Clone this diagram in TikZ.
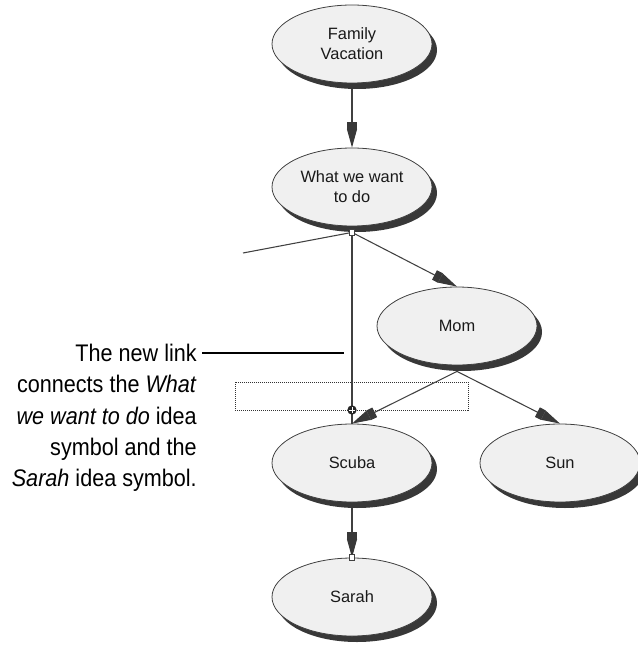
\documentclass[tikz,border=0pt]{standalone}
\usepackage{fontspec}
\setmainfont{Liberation Sans}
\newfontfamily\notefont[FakeStretch=0.9]{Liberation Sans}
\usetikzlibrary{arrows.meta,shapes.geometric,shadows}
\definecolor{fillc}{HTML}{F0F0F0}
\definecolor{edgec}{HTML}{404040}
\definecolor{shadc}{HTML}{383838}
\definecolor{linec}{HTML}{404040}
\begin{document}
\begin{tikzpicture}[x=0.75pt,y=-0.75pt,
  idea/.style={ellipse, draw=edgec, line width=0.6pt, fill=fillc,
    minimum width=120pt, minimum height=58.5pt, inner sep=0pt, align=center,
    font=\fontsize{12.3}{15}\selectfont, text=black!90,
    general shadow={shadow xshift=3.75pt, shadow yshift=-4.5pt, fill=shadc}},
  conn/.style={draw=linec, line width=0.8pt},
  tipped/.style={-{Rectangle[length=5pt,width=8pt,sep=0pt,color=shadc,fill=shadc] Triangle[length=14pt,width=7.5pt,color=shadc,fill=shadc]}},
  marker/.style={draw=edgec, fill=white, line width=0.5pt, minimum width=3.75pt, minimum height=4.5pt, inner sep=0pt}
]
\useasboundingbox (0,0) rectangle (637,648);

\node[idea] (fam) at (352,44) {Family\\Vacation};
\node[idea] (what) at (352,187) {What we want\\to do};
\node[idea] (mom) at (457,326) {Mom};
\node[idea] (scuba) at (352,463) {Scuba};
\node[idea] (sun) at (560,463) {Sun};
\node[idea] (sarah) at (352,597) {Sarah};

\coordinate (fb) at ([yshift=-4.5pt]fam.south);
\coordinate (wb) at ([yshift=-4.5pt]what.south);
\coordinate (mb) at ([yshift=-4.5pt]mom.south);
\coordinate (sb) at ([yshift=-4.5pt]scuba.south);
\coordinate (loose) at (243,253);

\draw[black!80, line width=0.75pt, dash pattern=on 0.75pt off 0.75pt] (235,382) rectangle (468,410);

\draw[conn] (wb) -- (loose);
\draw[conn] (wb) -- (scuba.north);
\draw[conn, tipped] (wb) -- (mom.north);
\draw[conn, tipped] (fb) -- (what.north);
\draw[conn, tipped] (mb) -- (scuba.north);
\draw[conn, tipped] (mb) -- (sun.north);
\draw[conn, tipped] (sb) -- (sarah.north);

\node[marker] (wsq) at (wb) {};
\node[marker] (ssq) at (sarah.north) {};

\node[circle, fill=black!85, minimum size=7pt, inner sep=0pt] (cross) at (352,410) {};
\draw[white, line width=0.75pt] ([xshift=-2.4pt]cross.center) -- ([xshift=2.4pt]cross.center);
\draw[white, line width=0.75pt] ([yshift=-2.4pt]cross.center) -- ([yshift=2.4pt]cross.center);

\node[anchor=north east, inner sep=0pt, align=right, text=black,
  font=\notefont\fontsize{18}{23.4}\selectfont] (note) at (197,344)
  {The new link\\connects the \textit{What}\\\textit{we want to do} idea\\symbol and the\\\textit{Sarah} idea symbol.};
\coordinate (ptr) at (344,353);
\draw[black, line width=1.1pt] ([shift={(3.75pt,-6.75pt)}]note.north east) -- (ptr);
\end{tikzpicture}
\end{document}
